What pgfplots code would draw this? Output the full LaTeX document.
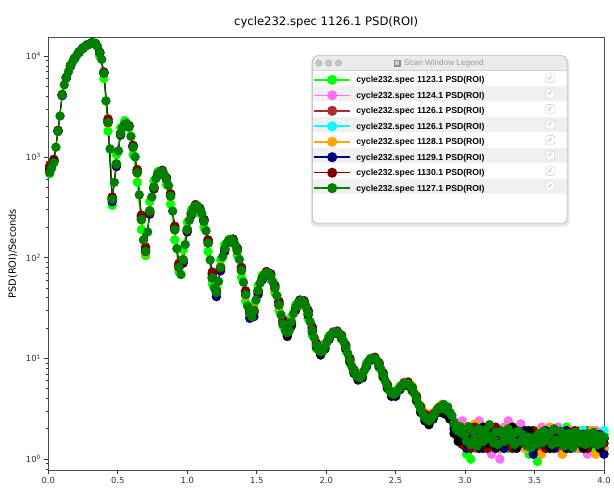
\documentclass[border=0pt]{standalone}
\usepackage{fontspec}
\setmainfont{DejaVu Sans}
\newfontfamily\legfont{Liberation Sans}
\usepackage{pgfplots}
\usepackage{pgfplotstable}
\pgfplotsset{compat=1.18}
\pgfdeclarelayer{background}
\pgfsetlayers{background,main}

\definecolor{cLime}{RGB}{0,255,0}
\definecolor{cViol}{RGB}{255,110,255}
\definecolor{cBrown}{RGB}{175,45,45}
\definecolor{cCyan}{RGB}{0,255,255}
\definecolor{cOrange}{RGB}{255,165,0}
\definecolor{cNavy}{RGB}{0,0,128}
\definecolor{cDred}{RGB}{128,0,0}
\definecolor{cGreen}{RGB}{0,128,0}

% scan 1127.1 (drawn on top)
\pgfplotstableread{
q y
0.010 700
0.025 780
0.040 880
0.055 1250
0.070 1800
0.085 2550
0.100 4100
0.115 5200
0.130 6100
0.145 7000
0.160 8000
0.175 8800
0.190 9500
0.205 10200
0.220 10900
0.235 11500
0.250 12000
0.265 12500
0.280 12900
0.295 13200
0.310 13500
0.325 13600
0.340 13300
0.355 12400
0.370 10800
0.385 9300
0.400 6800
0.415 3600
0.430 2200
0.445 1200
0.460 380
0.475 560
0.490 850
0.505 1150
0.520 1700
0.535 1950
0.550 2100
0.565 2150
0.580 2000
0.595 1600
0.610 1250
0.625 1000
0.640 700
0.655 420
0.670 240
0.685 150
0.700 115
0.715 180
0.730 290
0.745 400
0.760 500
0.775 610
0.790 680
0.805 715
0.820 720
0.835 670
0.850 600
0.865 520
0.880 410
0.895 290
0.910 190
0.925 123
0.940 80
0.955 68
0.970 95
0.985 135
1.000 190
1.015 235
1.030 275
1.045 310
1.060 330
1.075 325
1.090 300
1.105 275
1.120 230
1.135 185
1.150 140
1.165 95
1.180 63
1.195 50
1.210 45
1.225 58
1.240 80
1.255 102
1.270 122
1.285 138
1.300 148
1.315 152
1.330 148
1.345 135
1.360 118
1.375 96
1.390 75
1.405 57
1.420 43
1.435 33
1.450 28
1.465 26
1.480 30
1.495 38
1.510 47
1.525 56
1.540 63
1.555 68
1.570 71
1.585 70
1.600 66
1.615 58
1.630 50
1.645 42
1.660 34
1.675 27
1.690 22
1.705 19
1.720 18
1.735 19
1.750 23
1.765 28
1.780 32
1.795 35
1.810 37
1.825 37.5
1.840 36
1.855 33
1.870 28
1.885 23
1.900 19
1.915 16
1.930 13.5
1.945 12.2
1.960 11.6
1.975 11.8
1.990 13
2.005 14.5
2.020 16
2.035 17.2
2.050 18
2.065 18.3
2.080 18.2
2.095 17.6
2.110 16.5
2.125 14.8
2.140 13
2.155 11.2
2.170 9.6
2.185 8.3
2.200 7.4
2.215 6.8
2.230 6.5
2.245 6.4
2.260 6.8
2.275 7.6
2.290 8.6
2.305 9.4
2.320 9.9
2.335 10.1
2.350 10.0
2.365 9.5
2.380 8.7
2.395 7.8
2.410 6.9
2.425 6.0
2.440 5.3
2.455 4.8
2.470 4.5
2.485 4.4
2.500 4.5
2.515 4.8
2.530 5.1
2.545 5.4
2.560 5.6
2.575 5.7
2.590 5.6
2.605 5.4
2.620 5.0
2.635 4.5
2.650 4.0
2.665 3.5
2.680 3.1
2.695 2.8
2.710 2.6
2.725 2.5
2.740 2.4
2.755 2.5
2.770 2.7
2.785 2.9
2.800 3.1
2.815 3.3
2.830 3.2
2.845 3.5
2.860 3.1
2.875 3.3
2.890 2.9
2.905 2.7
2.920 2.3
2.935 2.0
2.950 1.9
2.965 2.1
2.980 1.8
2.995 1.75
3.010 1.5
3.025 2.1
3.040 1.4
3.055 1.9
3.070 1.6
3.085 1.35
3.100 2.0
3.115 1.7
3.130 1.5
3.145 1.95
3.160 1.6
3.175 2.2
3.190 1.7
3.205 1.45
3.220 1.85
3.235 1.4
3.250 1.9
3.265 1.75
3.280 1.5
3.295 1.8
3.310 2.0
3.325 1.55
3.340 1.75
3.355 1.4
3.370 1.85
3.385 1.9
3.400 1.5
3.415 1.75
3.430 1.6
3.445 1.35
3.460 1.65
3.475 1.3
3.490 1.6
3.505 1.4
3.520 1.7
3.535 1.8
3.550 1.45
3.565 1.9
3.580 1.55
3.595 1.7
3.610 1.8
3.625 1.4
3.640 2.0
3.655 1.55
3.670 1.45
3.685 1.9
3.700 1.6
3.715 1.35
3.730 1.5
3.745 1.8
3.760 1.55
3.775 1.3
3.790 1.85
3.805 1.5
3.820 1.75
3.835 1.45
3.850 1.7
3.865 1.4
3.880 1.8
3.895 1.55
3.910 1.45
3.925 1.85
3.940 1.6
3.955 1.4
3.970 1.7
3.985 1.45
4.000 1.65
}\maindata

% the other scans: a=1123.1 b=1124.1 c=1126.1(brown) d=1126.1(cyan) e=1128.1 f=1129.1 g=1130.1 h=unlisted (black)
\pgfplotstableread{
q a b c d e f g h
0.010 680 760 820 720 740 760 800 720
0.040 900 930 950 890 900 920 940 900
0.070 1850 1780 1820 1800 1790 1810 1830 1800
0.100 4200 4050 4100 4080 4120 4060 4150 4100
0.130 6200 6050 6150 6100 6080 6120 6150 6100
0.160 8100 7950 8050 8000 7980 8020 8050 8000
0.190 9600 9450 9550 9500 9480 9520 9550 9500
0.220 11000 10850 10950 10900 10880 10900 10950 10900
0.250 12100 11950 12050 12000 11980 12000 12050 12000
0.280 13000 12850 12950 12900 12880 12900 12950 12900
0.310 13600 13450 13550 13500 13480 13500 13550 13500
0.340 13000 13250 13350 13300 13280 13300 13350 13300
0.370 10000 10900 11000 10800 10700 10850 10900 10800
0.400 6000 6900 7000 6800 6700 6850 6900 6800
0.430 1800 2300 2400 2200 2150 2250 2350 2200
0.460 330 390 400 380 370 360 400 380
0.490 1050 830 820 850 860 800 830 850
0.520 1950 1650 1680 1700 1720 1650 1680 1700
0.550 2300 2080 2090 2100 2110 2080 2090 2100
0.580 1950 2020 2050 2000 2000 2030 2050 2000
0.610 1050 1280 1300 1250 1240 1290 1300 1250
0.640 560 720 740 700 690 740 750 700
0.670 190 250 260 240 235 255 265 240
0.700 105 118 125 115 112 120 128 115
0.730 360 280 275 290 295 270 280 290
0.760 580 490 485 500 505 480 490 500
0.790 720 670 675 680 685 660 675 680
0.820 700 725 735 720 715 730 735 720
0.850 530 610 620 600 595 620 620 600
0.880 340 420 430 410 405 430 430 410
0.910 150 195 205 190 188 200 205 190
0.940 72 82 86 80 78 84 88 80
0.970 120 92 90 95 97 88 92 95
1.000 225 185 182 190 192 180 185 190
1.030 300 270 268 275 278 265 270 275
1.060 325 332 336 330 328 334 336 330
1.090 275 305 310 300 298 310 308 300
1.120 200 235 240 230 228 240 238 230
1.150 115 145 150 140 138 148 150 140
1.180 55 66 70 63 62 68 72 63
1.210 50 44 46 45 46 41 47 45
1.240 95 78 76 80 82 74 78 80
1.270 135 120 118 122 124 115 120 122
1.300 152 146 147 148 149 144 146 148
1.330 140 150 152 148 147 152 153 148
1.360 105 120 123 118 117 124 124 118
1.390 64 77 80 75 74 80 80 75
1.420 37 44 46 43 42 45 47 43
1.450 26 27 29 28 28 25 30 28
1.480 34 29 28 30 31 26 29 30
1.510 53 45 45 47 48 43 46 47
1.540 67 61 61 63 64 60 62 63
1.570 70 72 72 71 71 72 73 71
1.600 61 68 69 66 65 69 69 66
1.630 45 52 53 50 49 53 53 50
1.660 30 36 36 34 33 36 37 34
1.690 21 23 24 22 22 23 24 22
1.720 19 17.5 18.5 18 18 16.5 19 17
1.750 26 22 22 23 23.5 21 22 22
1.780 34 31 31 32 32.5 30 31 31
1.810 37 37.5 37 37 37 38 37.5 37
1.840 33 37 37 36 35.5 37.5 37 35
1.870 25 29 29.5 28 27.5 30 29.5 27
1.900 17 20 20 19 18.5 20.5 20 18.5
1.930 12.5 14 14 13.5 13.5 13.5 14.2 13
1.960 11.8 11 11.7 11.6 11.8 10.8 11.8 11.2
1.990 14 12.6 12.6 13 13.2 12.4 12.8 12.5
2.020 16.8 15.6 15.7 16 16.2 15.4 15.8 15.6
2.050 18.2 18.4 17.8 18 18 17.8 18.2 17.6
2.080 17.6 18.8 18.4 18.2 18 18.6 18.5 17.8
2.110 15.5 17 16.8 16.5 16.3 17 16.9 16
2.140 12 13.4 13.4 13 12.8 13.6 13.4 12.6
2.170 9 10 9.9 9.6 9.5 10 9.9 9.3
2.200 7.2 7.6 7.7 7.4 7.3 7.5 7.7 7.1
2.230 6.8 6.4 6.6 6.5 6.6 6.1 6.5 6.2
2.260 7.3 6.6 6.6 6.8 6.9 6.4 6.7 6.5
2.290 9 8.4 8.4 8.6 8.7 8.3 8.5 8.3
2.320 10 9.9 9.8 9.9 10 9.7 9.9 9.6
2.350 9.6 10.3 10.2 10 10 10.2 10.2 9.7
2.380 8.1 9 9 8.7 8.6 9 9 8.4
2.410 6.4 7.2 7.1 6.9 6.8 7.2 7.1 6.6
2.440 5 5.5 5.5 5.3 5.3 5.4 5.5 5.1
2.470 4.5 4.4 4.6 4.5 4.6 4.2 4.6 4.3
2.500 4.8 4.3 4.4 4.5 4.6 4.2 4.4 4.3
2.530 5.3 5 5 5.1 5.2 4.9 5 4.9
2.560 5.5 5.8 5.6 5.6 5.8 5.5 5.7 5.4
2.590 5.3 5.8 5.7 5.6 5.9 5.7 5.8 5.4
2.620 4.7 5.2 5.1 5.0 5.3 5.1 5.1 4.8
2.650 3.8 4.2 4.1 4.0 4.3 4.1 4.2 3.8
2.680 3 3.3 3.2 3.1 3.4 3.2 3.3 2.9
2.710 2.5 2.7 2.7 2.6 2.9 2.6 2.8 2.4
2.740 2.3 2.5 2.6 2.4 2.7 2.3 2.5 2.2
2.770 2.6 2.8 2.8 2.7 2.9 2.6 2.8 2.5
2.800 2.9 3.2 3.0 3.1 3.2 3.0 3.1 2.9
2.830 3.0 3.1 3.3 3.0 3.5 2.9 3.2 3.0
2.860 2.8 3.0 3.0 3.2 2.9 2.8 3.1 2.8
2.890 2.7 2.8 2.6 2.9 2.8 2.7 2.9 2.5
2.920 2.2 2.4 2.2 2.3 2.1 2.0 2.3 1.8
2.950 2.0 2.1 1.9 2.0 1.7 1.6 1.8 1.5
2.980 1.45 2.4 1.4 1.9 2.1 1.8 1.4 1.8
3.010 1.12 1.76 1.44 1.92 2.08 1.28 1.6 1.44
3.040 1.0 2.08 1.6 1.76 1.44 1.76 1.28 1.92
3.070 1.92 1.28 1.76 1.6 2.24 1.44 2.08 1.6
3.100 1.6 2.4 1.28 2.08 1.76 1.92 1.44 1.28
3.130 2.08 1.44 1.92 1.44 1.6 1.28 1.76 2.08
3.160 1.28 1.92 1.6 1.76 2.08 1.6 1.28 1.44
3.190 1.76 1.12 2.08 1.6 1.44 2.08 1.6 1.76
3.220 1.44 1.6 1.44 1.92 1.92 1.44 2.08 1.28
3.250 1.92 1.0 1.76 1.44 1.28 1.76 1.44 1.92
3.280 1.6 2.08 1.28 1.76 1.76 1.28 1.6 1.44
3.310 1.28 2.4 1.92 1.6 2.08 1.92 1.76 1.6
3.340 2.08 1.44 1.44 1.92 1.44 1.44 1.28 2.08
3.370 1.44 1.76 1.76 1.44 1.6 1.76 1.92 1.28
3.400 1.76 2.24 1.6 1.76 1.92 1.6 1.44 1.76
3.430 1.6 1.28 1.92 1.6 1.28 1.92 1.76 1.44
3.460 1.12 1.6 1.44 1.92 1.76 1.44 1.6 1.92
3.490 1.44 1.92 1.76 1.44 1.44 1.12 1.92 1.28
3.520 0.95 1.44 1.28 1.76 1.92 1.76 1.44 1.6
3.550 1.76 2.08 1.6 1.6 1.12 1.44 1.76 1.44
3.580 1.44 1.28 1.92 1.92 1.6 1.92 1.28 1.76
3.610 1.92 1.76 1.44 1.44 2.08 1.6 1.6 1.28
3.640 1.28 1.44 1.76 1.76 1.44 1.28 1.92 1.6
3.670 1.6 2.08 1.28 1.6 1.76 1.76 1.44 1.44
3.700 1.44 1.12 1.6 1.92 1.12 1.44 1.76 1.76
3.730 2.08 1.6 1.92 1.44 1.6 1.92 1.28 1.28
3.760 1.28 1.92 1.44 1.76 1.92 1.28 1.6 1.6
3.790 1.6 1.28 1.76 1.6 1.44 1.6 1.92 1.44
3.820 1.92 1.76 1.28 1.44 1.28 1.76 1.44 1.76
3.850 1.44 1.44 1.6 1.92 1.76 1.44 1.76 1.28
3.880 1.76 1.12 1.92 1.6 1.44 1.28 1.28 1.6
3.910 1.28 1.6 1.44 1.76 1.92 1.76 1.6 1.44
3.940 1.92 1.92 1.76 1.44 1.12 1.44 1.44 1.76
3.970 1.44 1.44 1.28 1.6 1.6 1.6 1.76 1.28
4.000 1.76 1.28 1.6 1.92 1.28 1.12 1.44 1.6
}\others

\begin{document}
\begin{tikzpicture}
\begin{axis}[
  scale only axis, width=564pt, height=439pt,
  xmin=0, xmax=4, ymode=log, ymin=0.78, ymax=15350,
  xtick={0,0.5,1,1.5,2,2.5,3,3.5,4},
  xticklabels={0.0,0.5,1.0,1.5,2.0,2.5,3.0,3.5,4.0},
  ytick={1,10,100,1000,10000},
  yticklabels={10\textsuperscript{0},10\textsuperscript{1},10\textsuperscript{2},10\textsuperscript{3},10\textsuperscript{4}},
  minor ytick={0.8,0.9,2,3,4,5,6,7,8,9,20,30,40,50,60,70,80,90,200,300,400,500,600,700,800,900,2000,3000,4000,5000,6000,7000,8000,9000},
  xtick pos=bottom, ytick pos=left, tick align=outside,
  major tick length=4pt, minor tick length=2pt,
  tick style={black!80, line width=0.7pt},
  axis line style={black!70, line width=0.8pt},
  ticklabel style={font=\fontsize{8.5}{9}\selectfont, text=black!80},
  title={cycle232.spec 1126.1 PSD(ROI)},
  title style={font=\fontsize{11.8}{13}\selectfont, at={(0.5,1)}, anchor=base, yshift=6.5pt},
  ylabel={PSD(ROI)/Seconds},
  ylabel style={font=\fontsize{10}{12}\selectfont, at={(axis description cs:-0.064,0.5)}, anchor=center},
  every axis plot/.append style={mark=*, mark size=4.3pt, line width=0.9pt},
  legend cell align=left,
  legend image code/.code={\draw[mark repeat=2,mark phase=2,line width=1.6pt] plot coordinates {(0pt,0pt) (18pt,0pt) (36pt,0pt)};},
  legend style={at={(axis description cs:0.4775,0.9198)}, anchor=north west, draw=none, fill=none,
    inner sep=0pt, outer sep=0pt, row sep=0pt, column sep=5.7pt,
    font=\legfont\bfseries\fontsize{8.8}{9}\selectfont,
    nodes={inner sep=0pt, text height=10.75pt, text depth=4.95pt}},
]
\addplot[cLime] table[x=q,y=a]{\others};
\addlegendentry{cycle232.spec 1123.1 PSD(ROI)}
\addplot[cViol] table[x=q,y=b]{\others};
\addlegendentry{cycle232.spec 1124.1 PSD(ROI)}
\addplot[cBrown] table[x=q,y=c]{\others};
\addlegendentry{cycle232.spec 1126.1 PSD(ROI)}
\addplot[cCyan] table[x=q,y=d]{\others};
\addlegendentry{cycle232.spec 1126.1 PSD(ROI)}
\addplot[cOrange] table[x=q,y=e]{\others};
\addlegendentry{cycle232.spec 1128.1 PSD(ROI)}
\addplot[cNavy] table[x=q,y=f]{\others};
\addlegendentry{cycle232.spec 1129.1 PSD(ROI)}
\addplot[cDred] table[x=q,y=g]{\others};
\addlegendentry{cycle232.spec 1130.1 PSD(ROI)}
\addplot[black, forget plot] table[x=q,y=h]{\others};
\addplot[cGreen] table[x=q,y=y]{\maindata};
\addlegendentry{cycle232.spec 1127.1 PSD(ROI)}
\end{axis}

% legend window, in pixel units of the reference (origin top left, y down)
\begin{scope}[shift={(current axis.north west)}, xshift=-49pt, yshift=38pt, x=1pt, y=-1pt]
\path (0,0) rectangle (1,1);
\begin{pgfonlayer}{background}
  \fill[black, opacity=0.10, rounded corners=6pt] (315.5,58.5) rectangle (578,230);
  \begin{scope}
    \clip[rounded corners=5pt] (317,56.5) rectangle (575.5,226.5);
    \fill[white] (317,56.5) rectangle (575.5,226.5);
    \fill[black!8] (317,56.5) rectangle (575.5,71.5);
    \foreach \i in {1,3,5,7} {
      \fill[black!6] (317,{71.5+15.7*\i}) rectangle (575.5,{71.5+15.7*(\i+1)});
    }
  \end{scope}
  \draw[black!18, line width=0.5pt] (317,71.5) -- (575.5,71.5);
  \draw[black!30, line width=0.6pt, rounded corners=5pt] (317,56.5) rectangle (575.5,226.5);
\end{pgfonlayer}
\foreach \cx in {323.5,333.5,343.5} {
  \fill[black!22] (\cx,64) circle (3.2pt);
  \draw[black!35, line width=0.4pt] (\cx,64) circle (3.2pt);
}
\fill[black!45] (399.5,60.5) rectangle (406.5,67.5);
\fill[black!20] (401,62) rectangle (405,66);
\node[font=\legfont\fontsize{8.3}{9}\selectfont, text=black!40, anchor=west, inner sep=0pt] at (410,64) {Scan Window Legend};
\foreach \i in {0,...,7} {
  \node[draw=black!22, fill=white, rounded corners=1.5pt, minimum size=9pt, inner sep=0pt,
        text=black!40, font=\fontsize{7}{7}\selectfont] at (558.5,{79.3+15.7*\i}) {✓};
}
\end{scope}
\end{tikzpicture}
\end{document}
